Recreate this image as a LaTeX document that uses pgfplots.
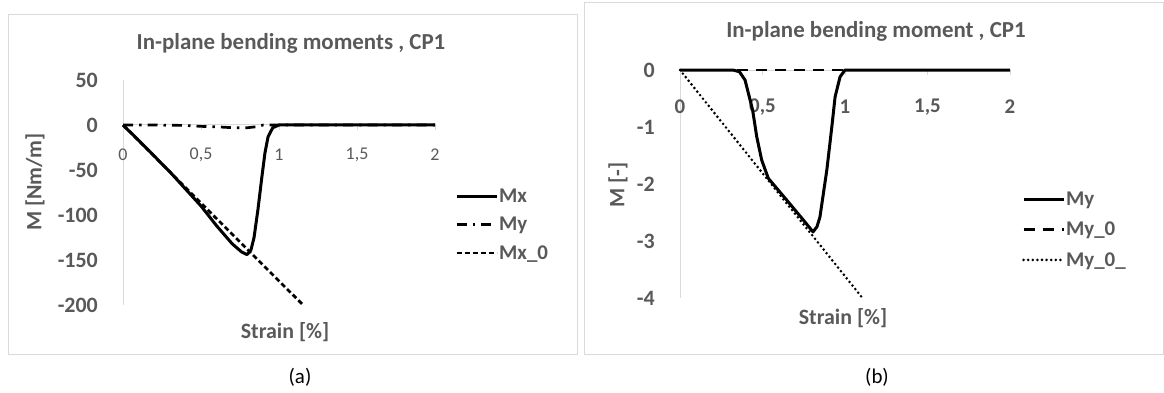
\documentclass[border=0pt]{standalone}
\usepackage{pgfplots}
\pgfplotsset{compat=1.18}
\usepackage{fontspec}
\setmainfont{Carlito}
\definecolor{txt}{HTML}{595959}
\definecolor{axl}{HTML}{D9D9D9}
\pgfplotsset{
  common/.style={
    scale only axis,
    xmin=0, xmax=2,
    axis x line*=middle, axis y line*=left,
    axis line style={axl, line width=1bp},
    hide obscured x ticks=false,
    hide obscured y ticks=false,
    xtick={0,0.5,1,1.5,2},
    xticklabels={0,{0,5},1,{1,5},2},
    tick align=outside,
    major tick length=5bp,
    xtick style={draw=axl, line width=1bp},
    ytick style={draw=none},
    clip=false,
    yticklabel style={anchor=east, inner sep=0pt, xshift=-20bp, text=txt, font=\bfseries\fontsize{22}{26}\selectfont},
    legend image code/.code={\draw[##1] (0bp,0bp) -- (40bp,0bp);},
    legend cell align=left,
  }
}
\begin{document}
\begin{tikzpicture}[x=1bp,y=1bp]
\path[use as bounding box] (0,0) rectangle (1164,392);
\draw[axl, line width=1bp] (8,38) rectangle (577,377);
\draw[axl, line width=1bp] (584,38) rectangle (1163,389);
\node[font=\fontsize{21}{24}\selectfont] at (300,15) {(a)};
\node[font=\fontsize{21}{24}\selectfont] at (877,15) {(b)};
\node[font=\bfseries\fontsize{23}{26}\selectfont, text=txt] at (291,349) {In-plane bending moments , CP1};
\node[font=\bfseries\fontsize{23}{26}\selectfont, text=txt] at (876,361) {In-plane bending moment , CP1};
\node[font=\bfseries\fontsize{22}{24}\selectfont, text=txt] at (285,60) {Strain [\%]};
\node[font=\bfseries\fontsize{22}{24}\selectfont, text=txt] at (843,74) {Strain [\%]};
\node[font=\bfseries\fontsize{22}{24}\selectfont, text=txt, rotate=90] at (35,210) {M [Nm/m]};
\node[font=\bfseries\fontsize{22}{24}\selectfont, text=txt, rotate=90] at (618,207) {M [-]};

\begin{axis}[common,
  at={(123bp,87bp)}, anchor=south west,
  width=312bp, height=225bp,
  ymin=-200, ymax=50,
  ytick={-200,-150,-100,-50,0,50},
  yticklabels={-200,-150,-100,-50,0,50},
  xticklabel style={anchor=center, yshift=-25bp, text=txt, font=\fontsize{18}{20}\selectfont},
  legend style={at={(1.064,0.52)}, anchor=north west, draw=none, fill=none,
    font=\bfseries\fontsize{21}{24}\selectfont, text=txt, inner sep=0pt, row sep=11bp,
    nodes={inner sep=1bp}},
]
\addplot[black, line width=3bp, line join=round] coordinates {
(0,0) (0.1,-17) (0.2,-34.5) (0.3,-52) (0.4,-71) (0.5,-90) (0.6,-112) (0.7,-132)
(0.76,-141) (0.795,-144) (0.82,-139) (0.84,-125) (0.865,-94) (0.89,-58)
(0.91,-31) (0.93,-13) (0.96,-3) (1.0,0) (1.5,0) (2,0)};
\addlegendentry{Mx}
\addplot[black, line width=2.7bp, dash pattern=on 10bp off 6bp on 2.5bp off 6bp] coordinates {
(0,0) (0.2,0) (0.4,-0.5) (0.5,-1.5) (0.6,-2) (0.7,-3) (0.8,-3) (0.85,-2) (0.9,0) (1,0) (1.5,0) (2,0)};
\addlegendentry{My}
\addplot[black, line width=2.8bp, dash pattern=on 5bp off 3bp] coordinates {
(0,0) (0.5,-86.7) (1.154,-200)};
\addlegendentry{Mx\_0}
\end{axis}

\begin{axis}[common,
  at={(680bp,94bp)}, anchor=south west,
  width=330bp, height=228bp,
  ymin=-4, ymax=0,
  ytick={-4,-3,-2,-1,0},
  yticklabels={-4,-3,-2,-1,0},
  xticklabel style={anchor=center, yshift=-32bp, text=txt, font=\bfseries\fontsize{21}{24}\selectfont},
  legend style={at={(1.036,0.47)}, anchor=north west, draw=none, fill=none,
    font=\bfseries\fontsize{21}{24}\selectfont, text=txt, inner sep=0pt, row sep=13bp,
    nodes={inner sep=1bp}},
]
\addplot[black, line width=3bp, line join=round] coordinates {
(0,0) (0.32,0) (0.36,-0.03) (0.394,-0.175) (0.44,-0.70) (0.465,-1.17) (0.495,-1.58)
(0.535,-1.9) (0.646,-2.28) (0.747,-2.63) (0.806,-2.84) (0.83,-2.75) (0.848,-2.58)
(0.89,-1.75) (0.92,-1.0) (0.94,-0.47) (0.97,-0.12) (1.0,0) (1.5,0) (2,0)};
\addlegendentry{My}
\addplot[black, line width=2.7bp, dash pattern=on 11bp off 8bp] coordinates {
(0,0) (1,0) (2,0)};
\addlegendentry{My\_0}
\addplot[black, line width=2.9bp, line cap=round, dash pattern=on 0bp off 4.6bp] coordinates {
(0,0) (0.5,-1.81) (1.10,-3.98)};
\addlegendentry{My\_0\_}
\end{axis}
\end{tikzpicture}
\end{document}
